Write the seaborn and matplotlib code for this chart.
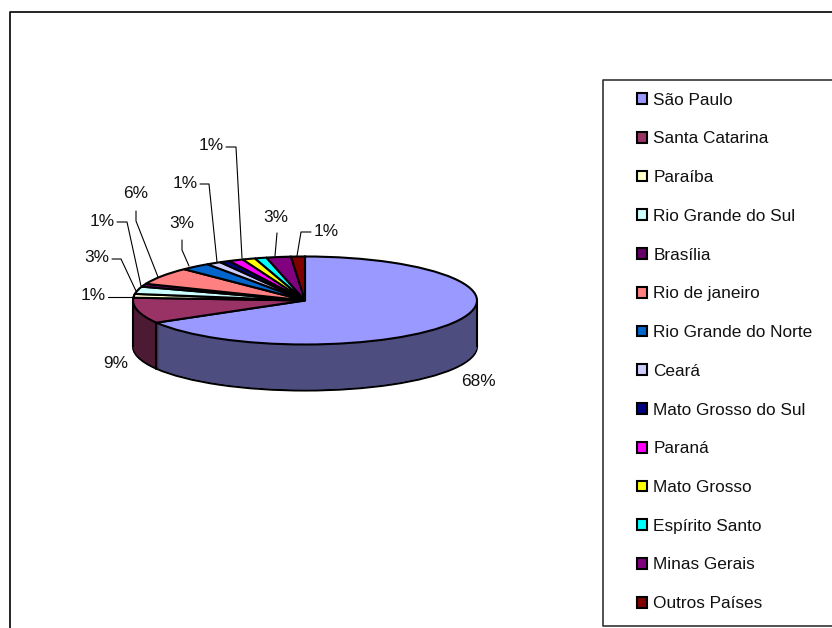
import matplotlib.pyplot as plt
import numpy as np
import seaborn as sns

states = ['São Paulo', 'Santa Catarina', 'Paraíba', 'Rio Grande do Sul', 'Brasília',
          'Rio de janeiro', 'Rio Grande do Norte', 'Ceará', 'Mato Grosso do Sul',
          'Paraná', 'Mato Grosso', 'Espírito Santo', 'Minas Gerais', 'Outros Países']
shares = [66.6, 9.4, 1.4, 2.7, 1.1, 6.4, 2.8, 1.4, 0.95, 1.35, 1.2, 1.1, 2.3, 1.3]
top_colors = ['#9999FF', '#993366', '#FFFFCC', '#CCFFFF', '#660066', '#FF8080', '#0066CC',
              '#CCCCFF', '#000080', '#FF00FF', '#FFFF00', '#00FFFF', '#800080', '#800000']

# params
W, H = 832, 628
cx, cy = 305, 300.5  # pie centre in pixels
rx, ry = 172, 44
depth_px = 46
font_px = 17.2
edge_lw = 1.5


def px(x, y):
    return (x - cx) / rx, (cy - y) / ry


sns.set_theme(style='white')
plt.rcParams['font.family'] = ['Liberation Sans', 'DejaVu Sans']
plt.rcParams['text.color'] = '#111111'
font_size = font_px * 72 / 100

fig = plt.figure(figsize=(W / 100, H / 100), dpi=100)
ax = fig.add_axes([0, 0, 1, 1])
palette = sns.color_palette(top_colors)
dark = [tuple(c * 0.5 for c in col) for col in palette]
depth = depth_px / ry

# side wall: the dark pie stacked from the bottom up
for i, step in enumerate(np.arange(depth, 0, -1 / ry)):
    edge = {'linewidth': edge_lw, 'edgecolor': 'black'} if i == 0 else {'linewidth': 0}
    ax.pie(shares, colors=dark, startangle=90, counterclock=False, center=(0, -step), wedgeprops=edge)

wedges, _ = ax.pie(shares, colors=palette, startangle=90, counterclock=False,
                   wedgeprops={'linewidth': edge_lw, 'edgecolor': 'black'})

# vertical edges of the wall
ax.vlines([-1, 1], -depth, 0, color='black', lw=edge_lw, zorder=3)
front = np.deg2rad(wedges[0].theta1)
ax.plot([np.cos(front)] * 2, [np.sin(front), np.sin(front) - depth], color='black', lw=edge_lw, zorder=3)

# labels and leader lines
labels = [('68%', 478, 381, None),
          ('9%', 116, 363, None),
          ('1%', 93, 296, [(108, 297), (134, 297)]),
          ('3%', 97, 258, [(112, 259), (121, 259), (136, 291)]),
          ('1%', 102, 221, [(117, 222), (127, 222), (141, 286)]),
          ('6%', 136, 193, [(136, 211), (136, 221), (158, 277)]),
          ('3%', 182, 223, [(182, 240), (182, 250), (189, 266)]),
          ('1%', 185, 183, [(200, 184), (209, 184), (217, 262)]),
          ('1%', 211, 146, [(226, 147), (236, 147), (242, 258)]),
          ('3%', 276, 217, [(277, 233), (275, 256)]),
          ('1%', 326, 232, [(311, 232), (301, 232), (297, 256)])]
for text, x, y, leader in labels:
    ax.text(*px(x, y), text, ha='center', va='center', fontsize=font_size)
    if leader:
        xs, ys = zip(*[px(*p) for p in leader])
        ax.plot(xs, ys, color='black', lw=0.8, zorder=3)

# outer frame and legend box, both open towards the edges of the picture
for pts, col in [([(10, H), (10, 12), (W, 12)], 'black'),
                 ([(W, 80), (603, 80), (603, 626), (W, 626)], '#333333')]:
    xs, ys = zip(*[px(*p) for p in pts])
    ax.plot(xs, ys, color=col, lw=1.2, clip_on=False, zorder=3)

ax.set_aspect('auto')
ax.set_xlim(px(0, 0)[0], px(W, 0)[0])
ax.set_ylim(px(0, H)[1], px(0, 0)[1])
ax.axis('off')

leg = ax.legend(wedges, states, loc='upper left', bbox_to_anchor=(632 / W, 1 - 87.5 / H),
                bbox_transform=fig.transFigure, frameon=False, fontsize=font_size,
                handlelength=0.58, handleheight=0.58, handletextpad=0.36,
                labelspacing=1.38, borderpad=0.3, borderaxespad=0)

fig.savefig('out.png', dpi=100)
